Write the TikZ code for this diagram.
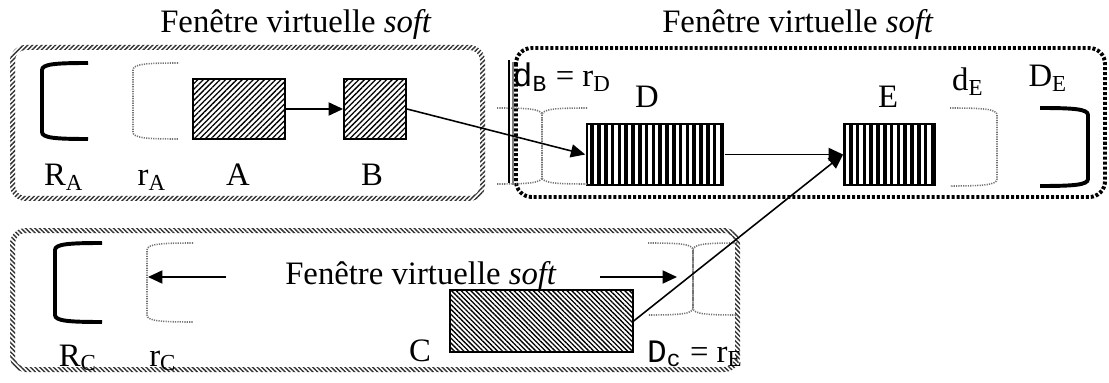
\documentclass[tikz,border=0pt]{standalone}
\usepackage{fontspec}
\setmainfont{Liberation Serif}
\setmonofont{Liberation Mono}
\usetikzlibrary{arrows.meta,patterns.meta,fit}
\newcommand{\brL}[5]{\draw[#5] (#2,#3) .. controls +({-0.7*(#2-#1)},0) and +(0,-6) .. (#1,{#3+7}) -- (#1,{#4-7}) .. controls +(0,6) and +({-0.7*(#2-#1)},0) .. (#2,#4);}
\newcommand{\brR}[5]{\draw[#5] (#1,#3) .. controls +({0.7*(#2-#1)},0) and +(0,-6) .. (#2,{#3+7}) -- (#2,{#4-7}) .. controls +(0,6) and +({0.7*(#2-#1)},0) .. (#1,#4);}
\begin{document}
\begin{tikzpicture}[x=0.382pt,y=-0.382pt,
  lbl/.style={font=\fontsize{12.5}{14}\selectfont, inner sep=0, anchor=base},
  thickbr/.style={line width=1.5pt, line cap=butt},
  dotbr/.style={line width=0.6pt, black!55, dash pattern=on 0.45pt off 0.45pt},
  arr/.style={line width=0.6pt, -{Triangle[length=5.5pt,width=5pt]}},
  hatchbox/.style={draw, line width=0.75pt, inner sep=0, pattern={Lines[angle=45,distance=1.5pt,line width=0.5pt]}},
  hatchboxb/.style={draw, line width=0.75pt, inner sep=0, pattern={Lines[angle=-45,distance=1.3pt,line width=0.5pt]}},
  stripebox/.style={draw, line width=0.75pt, inner sep=0, pattern={Lines[angle=90,distance=2.6pt,line width=1.35pt]}},
  ]
\useasboundingbox (0,0) rectangle (1109,383);
% frames
\fill[pattern={Lines[angle=45,distance=1.25pt,line width=0.55pt]}, pattern color=black!80, even odd rule]
  [rounded corners=6pt] (10,45) rectangle (485,201) [rounded corners=4pt] (15,50) rectangle (480,196);
\fill[pattern={Lines[angle=-45,distance=1.25pt,line width=0.55pt]}, pattern color=black!80, even odd rule]
  [rounded corners=6pt] (10,228) rectangle (740,372) [rounded corners=4pt] (15,233) rectangle (735,367);
\draw[line width=1.5pt, dash pattern=on 1.15pt off 0.75pt, rounded corners=6pt] (516,48) rectangle (1105,197);
% titles
\node[lbl] (t1) at (296,33) {Fenêtre virtuelle \textit{soft}};
\node[lbl] (t2) at (798,33) {Fenêtre virtuelle \textit{soft}};
\node[lbl] (t3) at (421,284) {Fenêtre virtuelle \textit{soft}};
% boxes
\node[hatchbox, fit={(193,79)(285,139)}] (A) {};
\node[hatchbox, fit={(344,79)(406,139)}] (B) {};
\node[stripebox, fit={(587,124)(723,185)}] (D) {};
\node[stripebox, fit={(844,124)(935,185)}] (E) {};
\node[hatchboxb, fit={(450,290)(633,352)}] (C) {};
% brackets
\brL{42}{88}{63}{139}{thickbr}
\brL{133}{178}{63}{139}{dotbr}
\brR{497}{542}{108}{184}{dotbr}
\brL{542}{587}{108}{184}{dotbr}
\brR{950}{997}{108}{186}{dotbr}
\brR{1040}{1088}{108}{186}{thickbr}
\brL{55}{102}{243}{322}{thickbr}
\brL{147}{193}{243}{322}{dotbr}
\brR{648}{693}{243}{315}{dotbr}
\brL{693}{737}{243}{315}{dotbr}
\draw[line width=0.6pt] (509,60) -- (509,183);
\draw[line width=0.4pt, gray] (513,62) -- (513,185);
% labels
\node[lbl] (lRA) at (64,186) {R\textsubscript{A}};
\node[lbl] (lrA) at (152,186) {r\textsubscript{A}};
\node[lbl] (lA) at (238,186) {A};
\node[lbl] (lB) at (372,186) {B};
\node[lbl] (lD) at (647,108) {D};
\node[lbl] (lE) at (888,108) {E};
\node[lbl] (ldE) at (968,91) {d\textsubscript{E}};
\node[lbl] (lDE) at (1048,87) {D\textsubscript{E}};
\node[lbl] (ldB) at (562,87) {\texttt{d\textsubscript{B}} = r\textsubscript{D}};
\node[lbl] (lRC) at (78,366) {R\textsubscript{C}};
\node[lbl] (lrC) at (163,366) {r\textsubscript{C}};
\node[lbl] (lC) at (420,361) {C};
\node[lbl] (lDc) at (695,362) {\texttt{D\textsubscript{c}} = r\textsubscript{E}};
% connectors
\coordinate (la1) at (226,277);
\coordinate (la2) at (148,277);
\coordinate (ra1) at (600,277);
\coordinate (ra2) at (677,277);
\draw[arr] (A.east) -- (B.west);
\draw[arr] (B.east) -- (D.west);
\draw[arr] (D.east) -- (E.west);
\draw[arr] (C.east) -- (E.west);
\draw[arr] (la1) -- (la2);
\draw[arr] (ra1) -- (ra2);
\end{tikzpicture}
\end{document}
